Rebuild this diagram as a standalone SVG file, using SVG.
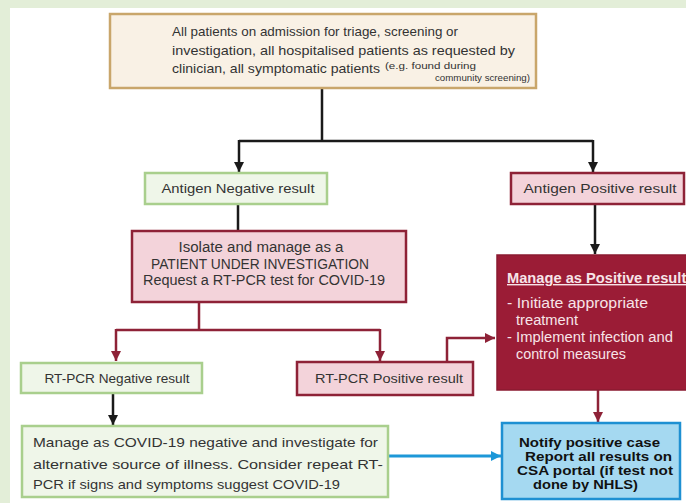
<svg xmlns="http://www.w3.org/2000/svg" width="686" height="503" viewBox="0 0 686 503">
<defs>
<style>
.t{font-family:"Liberation Sans",Arial,sans-serif;font-size:13px;fill:#333}
.c{text-anchor:middle}
.green{fill:#eff6e9;stroke:#a9cf8d;stroke-width:2.5}
.pink{fill:#f3d3da;stroke:#8e2237;stroke-width:2.5}
.blk{fill:none;stroke:#1a1a1a;stroke-width:2.5}
.red{fill:none;stroke:#8e2237;stroke-width:2.5}
.blue{fill:none;stroke:#1d98d8;stroke-width:3}
.w{fill:#f7e4e8;font-family:"Liberation Sans",Arial,sans-serif;font-size:14px}
.b{font-weight:bold;fill:#111;font-size:13.5px}
</style>
<marker id="ab" viewBox="0 0 10 10" refX="10" refY="5" markerWidth="4" markerHeight="4" orient="auto" markerUnits="strokeWidth"><path d="M0,0 L10,5 L0,10 z" fill="#1a1a1a"/></marker>
<marker id="ar" viewBox="0 0 10 10" refX="10" refY="5" markerWidth="4" markerHeight="4" orient="auto" markerUnits="strokeWidth"><path d="M0,0 L10,5 L0,10 z" fill="#8e2237"/></marker>
<marker id="abl" viewBox="0 0 10 10" refX="10" refY="5" markerWidth="3.5" markerHeight="3.5" orient="auto" markerUnits="strokeWidth"><path d="M0,0 L10,5 L0,10 z" fill="#1d98d8"/></marker>
</defs>
<rect x="0" y="0" width="686" height="503" fill="#e3eed8"/>
<rect x="10" y="8" width="676" height="495" fill="#ffffff"/>

<g id="connectors">
<path class="blk" d="M322,88 V141 M239,141 H593"/>
<path class="blk" d="M239,140 V172" marker-end="url(#ab)"/>
<path class="blk" d="M593,140 V172" marker-end="url(#ab)"/>
<path class="blk" d="M238,204 V231"/>
<path class="blk" d="M595,205 V254" marker-end="url(#ab)"/>
<path class="red" d="M199,302 V330 M116,330 H380"/>
<path class="red" d="M116,329 V361" marker-end="url(#ar)"/>
<path class="red" d="M380,329 V361" marker-end="url(#ar)"/>
<path class="red" d="M447,362 V338 H495" marker-end="url(#ar)"/>
<path class="blk" d="M113,394 V425" marker-end="url(#ab)"/>
<path class="red" d="M598,390 V422" marker-end="url(#ar)"/>
<path class="blue" d="M388,456 H501" marker-end="url(#abl)"/>
</g>

<g id="top">
<rect x="110" y="14" width="426" height="74" fill="#f9f1e5" stroke="#c9a66b" stroke-width="2.5"/>
<text class="t" x="172" y="36" textLength="286" lengthAdjust="spacingAndGlyphs">All patients on admission for triage, screening or</text>
<text class="t" x="172" y="55" textLength="343" lengthAdjust="spacingAndGlyphs">investigation, all hospitalised patients as requested by</text>
<text class="t" x="172" y="73" textLength="208" lengthAdjust="spacingAndGlyphs">clinician, all symptomatic patients</text>
<text class="t" x="385" y="69" style="font-size:9px" textLength="91" lengthAdjust="spacingAndGlyphs">(e.g. found during</text>
<text class="t" x="435" y="81" style="font-size:9px" textLength="95" lengthAdjust="spacingAndGlyphs">community screening)</text>
</g>

<g id="antigen-neg">
<rect class="green" x="145" y="173" width="182" height="31"/>
<text class="t c" x="238" y="193" textLength="153" lengthAdjust="spacingAndGlyphs">Antigen Negative result</text>
</g>

<g id="antigen-pos">
<rect class="pink" x="511" y="173" width="173" height="31"/>
<text class="t c" x="600" y="193" textLength="153" lengthAdjust="spacingAndGlyphs">Antigen  Positive result</text>
</g>

<g id="isolate">
<rect class="pink" x="132" y="231" width="274" height="71"/>
<text class="t c" x="261" y="252" style="font-size:14px" textLength="165" lengthAdjust="spacingAndGlyphs">Isolate and manage as a</text>
<text class="t c" x="260" y="269" style="font-size:14px" textLength="218" lengthAdjust="spacingAndGlyphs">PATIENT UNDER INVESTIGATION</text>
<text class="t c" x="264" y="285" style="font-size:14px" textLength="242" lengthAdjust="spacingAndGlyphs">Request a RT-PCR test for COVID-19</text>
</g>

<g id="manage-pos">
<rect x="497" y="255" width="195" height="135" fill="#9b1c36" stroke="#8a1a30" stroke-width="1.5"/>
<text class="w" x="507" y="283" style="font-weight:bold;text-decoration:underline" textLength="185" lengthAdjust="spacingAndGlyphs">Manage as Positive result*</text>
<text class="w" x="507" y="308" textLength="141" lengthAdjust="spacingAndGlyphs">- Initiate appropriate</text>
<text class="w" x="516" y="325" textLength="62" lengthAdjust="spacingAndGlyphs">treatment</text>
<text class="w" x="507" y="342" textLength="166" lengthAdjust="spacingAndGlyphs">- Implement infection and</text>
<text class="w" x="516" y="359" textLength="110" lengthAdjust="spacingAndGlyphs">control measures</text>
</g>

<g id="rtpcr-neg">
<rect class="green" x="21" y="363" width="181" height="30"/>
<text class="t c" x="117" y="383" textLength="145" lengthAdjust="spacingAndGlyphs">RT-PCR Negative result</text>
</g>

<g id="rtpcr-pos">
<rect class="pink" x="297" y="362" width="176" height="33"/>
<text class="t c" x="389" y="383" textLength="148" lengthAdjust="spacingAndGlyphs">RT-PCR  Positive result</text>
</g>

<g id="manage-neg">
<rect class="green" x="22" y="426" width="366" height="71"/>
<text class="t" x="33" y="447" style="font-size:13.5px" textLength="345" lengthAdjust="spacingAndGlyphs">Manage as COVID-19 negative and investigate for</text>
<text class="t" x="33" y="469" style="font-size:13.5px" textLength="350" lengthAdjust="spacingAndGlyphs">alternative source of illness. Consider repeat RT-</text>
<text class="t" x="33" y="489" style="font-size:13.5px" textLength="307" lengthAdjust="spacingAndGlyphs">PCR if signs and symptoms suggest COVID-19</text>
</g>

<g id="notify">
<rect x="502" y="423" width="178" height="76" fill="#a5d9f1" stroke="#1e90d2" stroke-width="2.5"/>
<text class="t b" x="519" y="447" textLength="141" lengthAdjust="spacingAndGlyphs">Notify  positive case</text>
<text class="t b" x="525" y="461" textLength="147" lengthAdjust="spacingAndGlyphs">Report all results on</text>
<text class="t b" x="517" y="475" textLength="156" lengthAdjust="spacingAndGlyphs">CSA portal (if test not</text>
<text class="t b" x="533" y="489" textLength="105" lengthAdjust="spacingAndGlyphs">done by NHLS)</text>
</g>
</svg>
